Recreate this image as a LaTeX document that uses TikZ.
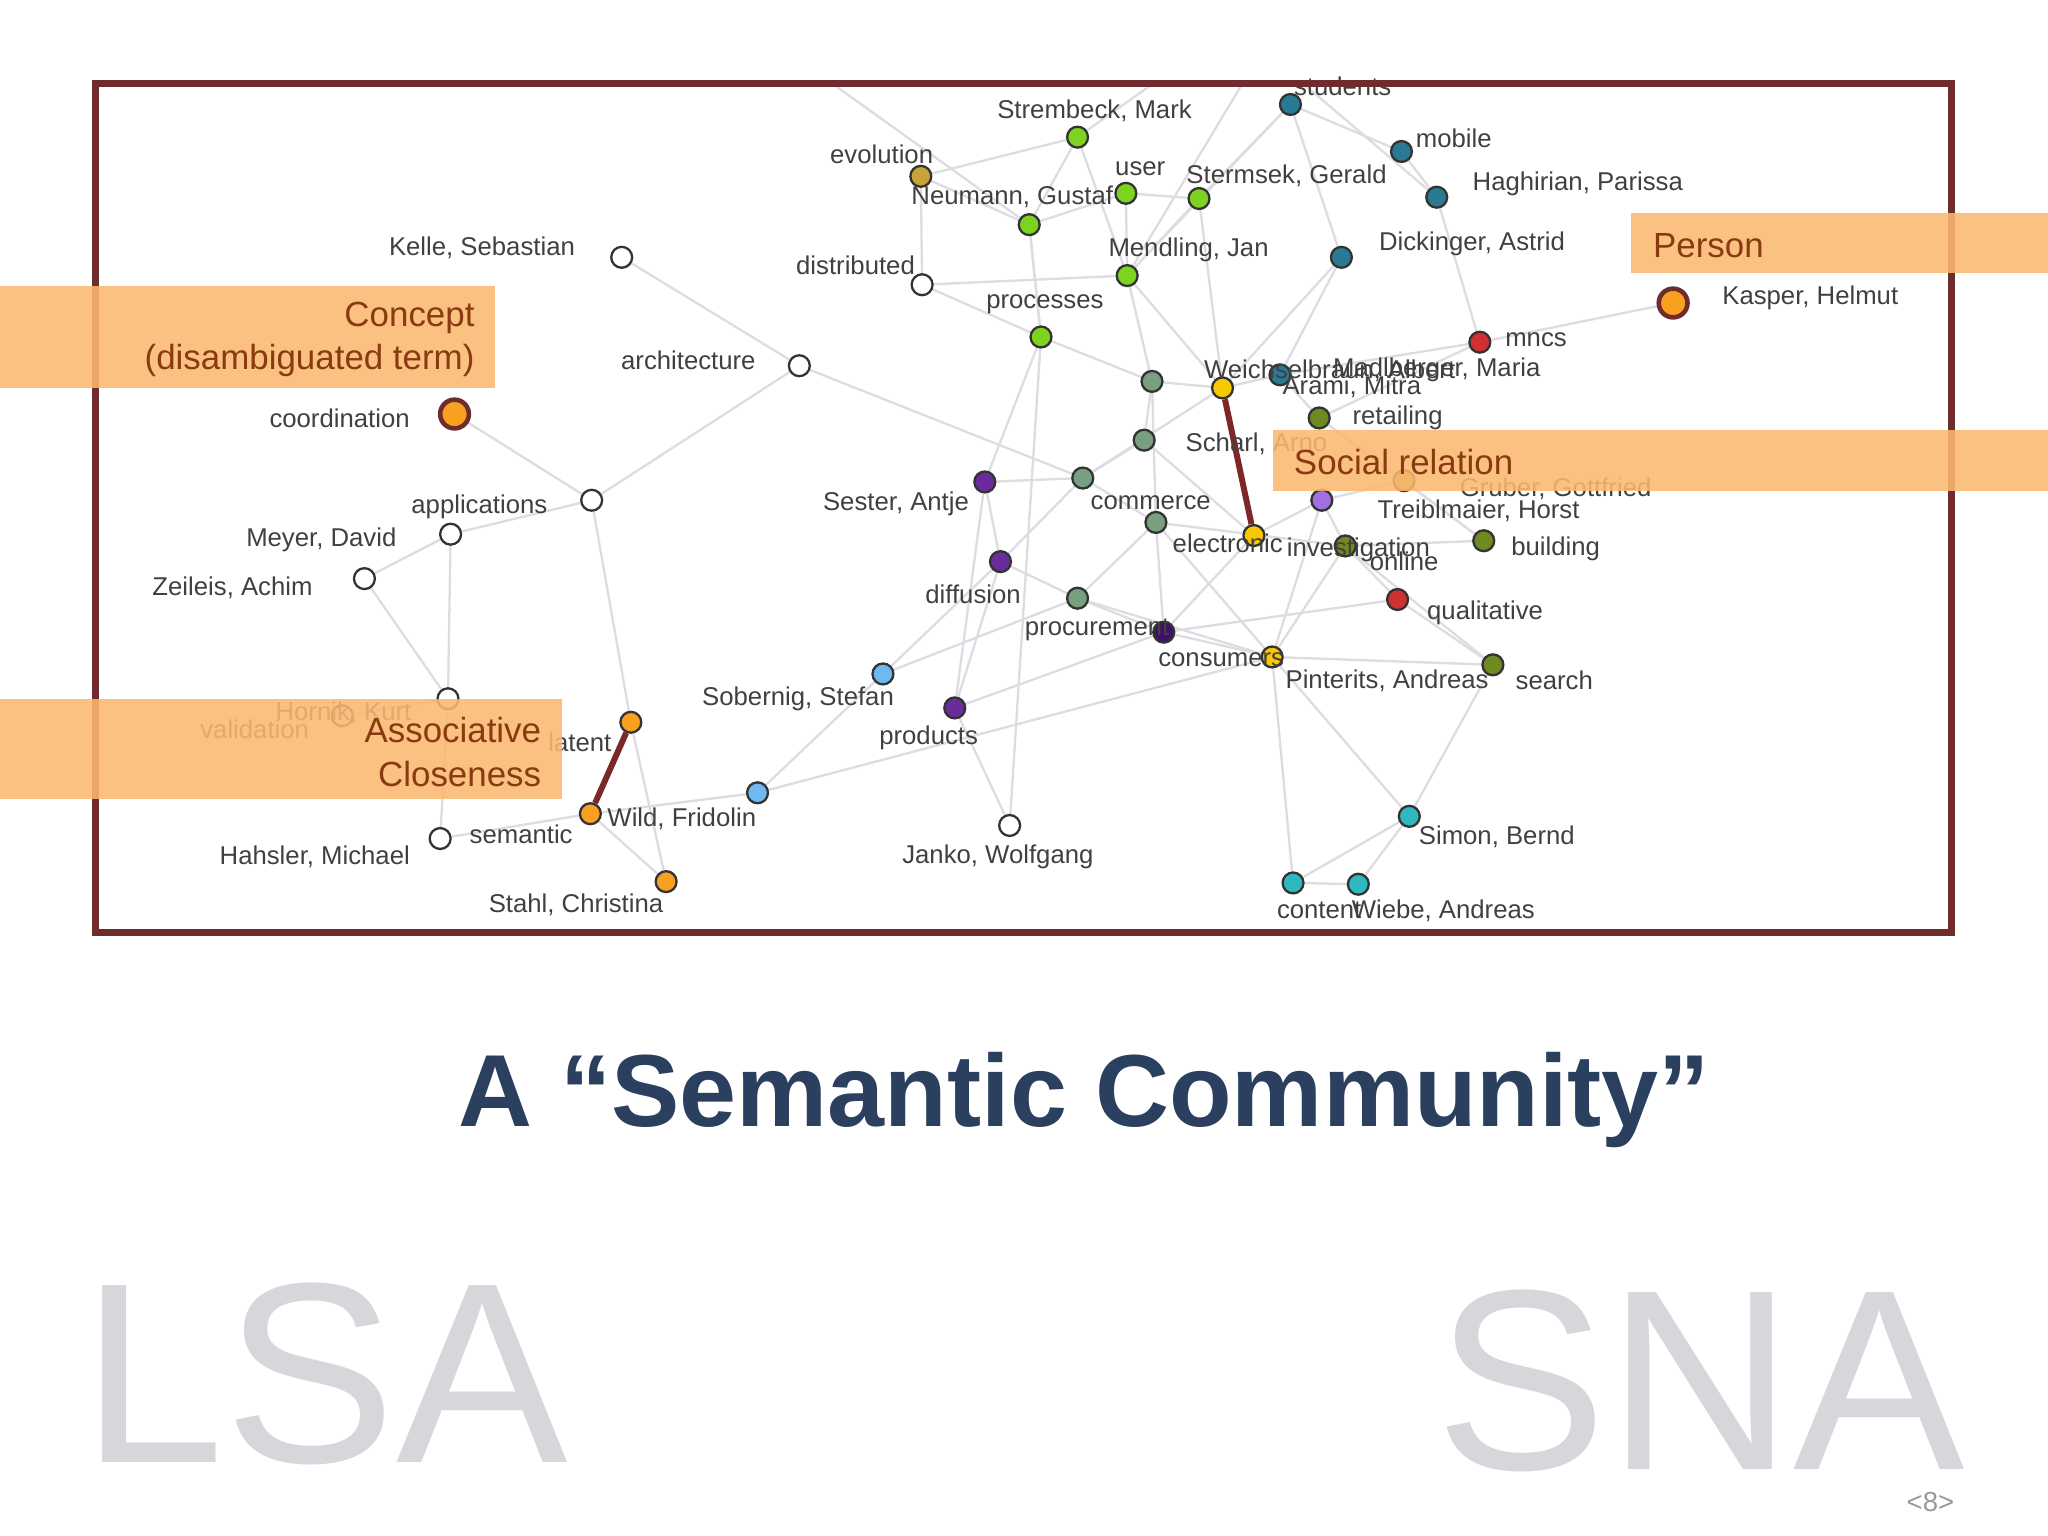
\documentclass[tikz,border=0pt]{standalone}
\usepackage{fontspec}
\setmainfont{Liberation Sans}
\usetikzlibrary{backgrounds}
\definecolor{edgec}{HTML}{DCDCE2}
\definecolor{framec}{HTML}{6E2C2C}
\definecolor{bandc}{HTML}{FBB870}
\definecolor{bandt}{HTML}{8A3A10}
\definecolor{titlec}{HTML}{2B3F5F}
\definecolor{bigg}{HTML}{D8D6DA}
\definecolor{cgreen}{HTML}{7ED321}
\definecolor{cteal}{HTML}{2A7A94}
\definecolor{cgold}{HTML}{C8A23A}
\definecolor{cgg}{HTML}{78A080}
\definecolor{cpur}{HTML}{6A2C9C}
\definecolor{clpur}{HTML}{A070E0}
\definecolor{colive}{HTML}{6E8A20}
\definecolor{cred}{HTML}{D03030}
\definecolor{cyel}{HTML}{F8C800}
\definecolor{cor}{HTML}{F8A020}
\definecolor{cblue}{HTML}{70B8F0}
\definecolor{ccyan}{HTML}{30B8C0}
\definecolor{cdp}{HTML}{40106A}
\tikzset{
  x=0.01cm,y=-0.01cm,
  nd/.style={circle,draw=black!80,line width=0.5pt,inner sep=0pt,minimum size=0.16cm,fill=#1},
  big/.style={circle,draw=framec,line width=1pt,inner sep=0pt,minimum size=0.22cm,fill=cor},
  lb/.style={font=\fontsize{5.6}{6}\selectfont,text=black!75,inner sep=0pt},
  ed/.style={draw=edgec,line width=0.5pt},
  rel/.style={draw=framec!90!red,line width=1.3pt},
  band/.style={fill=bandc,fill opacity=0.88,draw=none},
  bt/.style={font=\fontsize{7.6}{9.5}\selectfont,text=bandt,inner sep=0pt}
}
\begin{document}
\begin{tikzpicture}
\useasboundingbox (0,0) rectangle (1568,1176);
% nodes
\node[nd=cgreen] (strem) at (825,105) {};
\node[nd=cgold] (evol) at (705,135) {};
\node[nd=cgreen] (neum) at (788,172) {};
\node[nd=cgreen] (user) at (862,148) {};
\node[nd=cgreen] (sterm) at (918,152) {};
\node[nd=cteal] (stud) at (988,80) {};
\node[nd=cteal] (mob) at (1073,116) {};
\node[nd=cteal] (hagh) at (1100,151) {};
\node[nd=cteal] (dick) at (1027,197) {};
\node[nd=cgreen] (mend) at (863,211) {};
\node[nd=white] (dist) at (706,218) {};
\node[nd=white] (kelle) at (476,197) {};
\node[nd=cgreen] (proc) at (797,258) {};
\node[nd=white] (arch) at (612,280) {};
\node[big] (kasp) at (1281,232) {};
\node[nd=cred] (mncs) at (1133,262) {};
\node[nd=cyel] (weich) at (936,297) {};
\node[nd=cteal] (madl) at (980,287) {};
\node[nd=cgg] (g1) at (882,292) {};
\node[nd=colive] (ret) at (1010,320) {};
\node[nd=cgg] (g2) at (876,337) {};
\node[big] (coord) at (348,317) {};
\node[nd=white] (appl) at (453,383) {};
\node[nd=white] (meyer) at (345,409) {};
\node[nd=white] (zeil) at (279,443) {};
\node[nd=cpur] (sest) at (754,369) {};
\node[nd=cgg] (comm) at (829,366) {};
\node[nd=cgg] (elec) at (885,400) {};
\node[nd=cyel] (scharl) at (960,410) {};
\node[nd=clpur] (lp) at (1012,383) {};
\node[nd=cgold] (grub) at (1075,368) {};
\node[nd=colive] (build) at (1136,414) {};
\node[nd=colive] (inv) at (1030,418) {};
\node[nd=cpur] (diff) at (766,430) {};
\node[nd=cgg] (g3) at (825,458) {};
\node[nd=cdp] (procu) at (891,484) {};
\node[nd=cred] (qual) at (1070,459) {};
\node[nd=cyel] (cons) at (974,503) {};
\node[nd=colive] (search) at (1143,509) {};
\node[nd=cblue] (sob) at (676,516) {};
\node[nd=cpur] (prod) at (731,542) {};
\node[nd=white] (w1) at (343,535) {};
\node[nd=white] (horn) at (262,548) {};
\node[nd=cor] (lat) at (483,553) {};
\node[nd=cor] (wild) at (452,623) {};
\node[nd=cblue] (b2) at (580,607) {};
\node[nd=white] (hahs) at (337,642) {};
\node[nd=cor] (stahl) at (510,675) {};
\node[nd=white] (jank) at (773,632) {};
\node[nd=ccyan] (simon) at (1079,625) {};
\node[nd=ccyan] (cont) at (990,676) {};
\node[nd=ccyan] (wiebe) at (1040,677) {};
\coordinate (t1) at (640,66); \coordinate (t2) at (880,66); \coordinate (t3) at (950,66); \coordinate (t4) at (1000,66);
% edges
\begin{scope}[on background layer]
\foreach \a/\b in {kelle/arch,arch/appl,arch/comm,appl/coord,appl/meyer,meyer/zeil,meyer/w1,zeil/w1,w1/horn,w1/hahs,appl/lat,lat/stahl,wild/stahl,wild/b2,wild/hahs,b2/sob,b2/cons,sob/diff,sob/g3,prod/sest,prod/diff,prod/jank,jank/proc,diff/comm,sest/comm,sest/proc,proc/neum,neum/evol,evol/strem,evol/dist,dist/proc,dist/mend,neum/user,user/sterm,sterm/stud,stud/mob,mob/hagh,hagh/mncs,mncs/kasp,dick/stud,dick/weich,mend/weich,weich/g1,g2/g1,g2/comm,comm/elec,elec/cons,cons/cont,cons/simon,simon/cont,simon/wiebe,wiebe/cont,search/simon,search/cons,qual/search,qual/procu,procu/g3,procu/cons,build/ret,build/grub,inv/elec,mncs/ret,weich/madl,ret/madl,madl/dick,strem/neum,strem/mend,user/mend,sterm/mend,proc/g1,g1/elec,g2/scharl,lp/scharl,lp/inv,inv/build,grub/lp,qual/inv,cons/inv,elec/procu,procu/prod,g3/elec,diff/g3,comm/weich,sest/diff,neum/proc,mend/g1,madl/mncs,stud/mend,sterm/weich,g3/cons,inv/search,lp/cons,scharl/procu}
  \draw[ed] (\a) -- (\b);
\draw[ed] (t1) -- (neum); \draw[ed] (t2) -- (strem); \draw[ed] (t3) -- (mend); \draw[ed] (t4) -- (hagh);
\end{scope}
\draw[rel] (weich) -- (scharl);
\draw[rel] (lat) -- (wild);
% labels
\node[lb] (l1) at (838,85) {Strembeck, Mark};
\node[lb] (l2) at (675,118) {evolution};
\node[lb] (l3) at (775,151) {Neumann, Gustaf};
\node[lb] (l4) at (873,129) {user};
\node[lb] (l5) at (985,135) {Stermsek, Gerald};
\node[lb] (l6) at (1028,66) {students};
\node[lb] (l7) at (1113,106) {mobile};
\node[lb] (l8) at (1208,141) {Haghirian, Parissa};
\node[lb] (l9) at (1127,187) {Dickinger, Astrid};
\node[lb] (l10) at (910,191) {Mendling, Jan};
\node[lb] (l11) at (655,203) {distributed};
\node[lb] (l12) at (369,190) {Kelle, Sebastian};
\node[lb] (l13) at (800,233) {processes};
\node[lb] (l14) at (527,276) {architecture};
\node[lb] (l15) at (1386,228) {Kasper, Helmut};
\node[lb] (l16) at (1176,260) {mncs};
\node[lb] (l17) at (1018,284) {Weichselbraun, Albert};
\node[lb] (l18) at (1100,283) {Madlberger, Maria};
\node[lb] (l19) at (1035,296) {Arami, Mitra};
\node[lb] (l20) at (1070,320) {retailing};
\node[lb] (l21) at (962,340) {Scharl, Arno};
\node[lb] (l22) at (260,320) {coordination};
\node[lb] (l23) at (367,388) {applications};
\node[lb] (l24) at (246,413) {Meyer, David};
\node[lb] (l25) at (178,450) {Zeileis, Achim};
\node[lb] (l26) at (686,386) {Sester, Antje};
\node[lb] (l27) at (881,385) {commerce};
\node[lb] (l28) at (940,416) {electronic};
\node[lb] (l29) at (1191,374) {Gruber, Gottfried};
\node[lb] (l30) at (1132,391) {Treiblmaier, Horst};
\node[lb] (l31) at (1191,420) {building};
\node[lb] (l32) at (1040,421) {investigation};
\node[lb] (l33) at (1075,430) {online};
\node[lb] (l34) at (745,455) {diffusion};
\node[lb] (l35) at (840,482) {procurement};
\node[lb] (l36) at (1137,469) {qualitative};
\node[lb] (l37) at (935,505) {consumers};
\node[lb] (l38) at (1062,521) {Pinterits, Andreas};
\node[lb] (l39) at (1190,521) {search};
\node[lb] (l40) at (611,535) {Sobernig, Stefan};
\node[lb] (l41) at (711,565) {products};
\node[lb] (l42) at (263,546) {Hornik, Kurt};
\node[lb] (l43) at (195,558) {validation};
\node[lb] (l44) at (444,568) {latent};
\node[lb] (l45) at (522,627) {Wild, Fridolin};
\node[lb] (l46) at (399,639) {semantic};
\node[lb] (l47) at (241,656) {Hahsler, Michael};
\node[lb] (l48) at (441,693) {Stahl, Christina};
\node[lb] (l49) at (764,656) {Janko, Wolfgang};
\node[lb] (l50) at (1146,641) {Simon, Bernd};
\node[lb] (l51) at (1010,697) {content};
\node[lb] (l52) at (1105,697) {Wiebe, Andreas};
% frame
\draw[framec,line width=1.6pt] (73,64) rectangle (1494,714);
% bands
\fill[band] (1249,163) rectangle (1568,209);
\fill[band] (0,219) rectangle (379,297);
\fill[band] (975,329) rectangle (1568,376);
\fill[band] (0,535) rectangle (430,612);
\node[bt,anchor=west] (bp) at (1265,188) {Person};
\node[bt,anchor=east,align=right] (bc) at (364,260) {Concept\\(disambiguated term)};
\node[bt,anchor=west] (bs) at (990,354) {Social relation};
\node[bt,anchor=east,align=right] (ba) at (415,576) {Associative\\Closeness};
% title
\node[font=\bfseries\fontsize{22.3}{27}\selectfont,text=titlec] (title) at (830,842) {A “Semantic Community”};
\node[font=\fontsize{56}{60}\selectfont,text=bigg,anchor=base west,inner sep=0pt] (lsa) at (62,1120) {LSA};
\node[font=\fontsize{56}{60}\selectfont,text=bigg,anchor=base east,inner sep=0pt] (sna) at (1505,1125) {SNA};
\node[font=\fontsize{6}{7}\selectfont,text=black!40] (pg) at (1478,1150) {<8>};
\end{tikzpicture}
\end{document}
